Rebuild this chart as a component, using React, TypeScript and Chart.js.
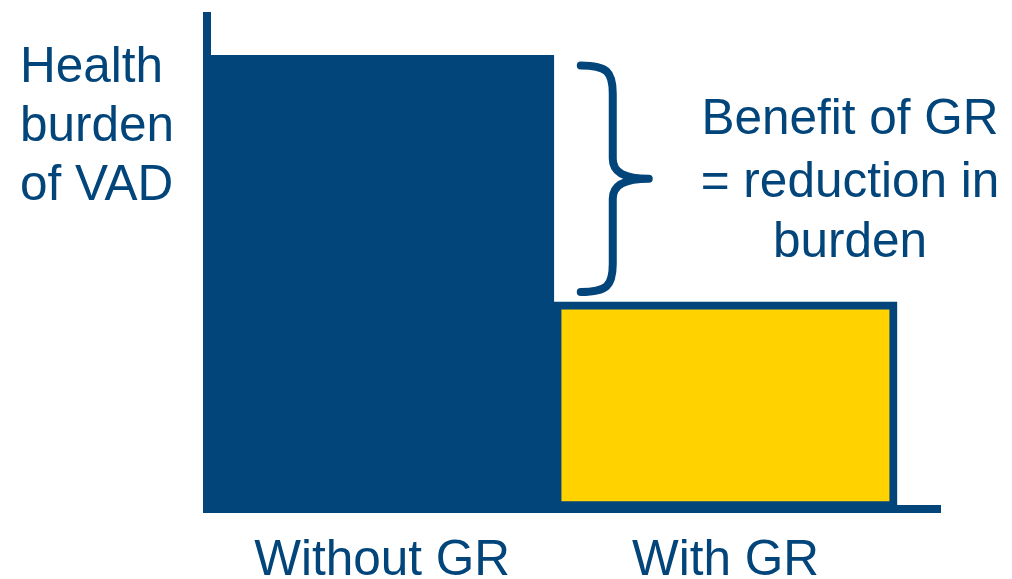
import { useEffect, useRef } from "react";
import { Chart, registerables } from "chart.js";

Chart.register(...registerables);

// Chart values
const categories = ["Without GR", "With GR"];
const burden = [92, 42];
const axisMax = 100;
const sideLabel = ["Health", "burden", "of VAD"];
const benefitLabel = ["Benefit of GR", "= reduction in", "burden"];

const NAVY = "#02457A";
const GOLD = "#FFD200";
const FONT = '"Liberation Sans", Arial, Helvetica, sans-serif';
const TEXT_SIZE = 49.5;

// Draws the side caption, the curly brace between the two bar tops and its note
const annotations = {
  id: "burdenAnnotations",
  afterDraw(chart: any) {
    const { ctx, scales } = chart;
    const xs = scales.x;
    const ys = scales.y;
    ctx.save();
    ctx.fillStyle = NAVY;
    ctx.font = `${TEXT_SIZE}px ${FONT}`;
    ctx.textBaseline = "alphabetic";

    // caption at the left of the value axis
    ctx.textAlign = "left";
    sideLabel.forEach((line, i) => ctx.fillText(line, 20, 82 + i * 59));

    // brace spanning the drop from the first bar to the second
    const top = ys.getPixelForValue(burden[0]) + 10;
    const bot = ys.getPixelForValue(burden[1]) - 10;
    const mid = (top + bot) / 2;
    const x0 = xs.getPixelForValue(0.5) + 27;
    const xs1 = x0 + 32;
    const tip = x0 + 68;
    ctx.strokeStyle = NAVY;
    ctx.lineWidth = 8;
    ctx.lineCap = "round";
    ctx.lineJoin = "round";
    ctx.beginPath();
    ctx.moveTo(x0, top);
    ctx.bezierCurveTo(x0 + 26, top, xs1, top + 6, xs1, top + 28);
    ctx.lineTo(xs1, mid - 20);
    ctx.bezierCurveTo(xs1, mid - 6, xs1 + 12, mid, tip, mid);
    ctx.bezierCurveTo(xs1 + 12, mid, xs1, mid + 6, xs1, mid + 20);
    ctx.lineTo(xs1, bot - 28);
    ctx.bezierCurveTo(xs1, bot - 6, x0 + 26, bot, x0, bot);
    ctx.stroke();

    // note explaining the brace
    ctx.textAlign = "center";
    const offsets = [-45, 18, 78];
    benefitLabel.forEach((line, i) => ctx.fillText(line, 850, mid + offsets[i]));
    ctx.restore();
  },
};

export default function App() {
  const canvasRef = useRef<HTMLCanvasElement | null>(null);

  useEffect(() => {
    const canvas = canvasRef.current;
    if (!canvas) return;
    const chart = new Chart(canvas, {
      type: "bar",
      data: {
        datasets: [
          {
            data: categories.map((_, i) => ({ x: i, y: burden[i] })),
            backgroundColor: [NAVY, GOLD],
            borderColor: NAVY,
            borderWidth: [0, 8],
            borderSkipped: false,
            barPercentage: 1,
            categoryPercentage: 1,
          },
        ],
      },
      options: {
        responsive: false,
        animation: false,
        events: [],
        layout: { padding: { left: 207, top: 16, right: 72, bottom: 0 } },
        plugins: {
          legend: { display: false },
          tooltip: { enabled: false },
          title: { display: false },
        },
        scales: {
          x: {
            type: "linear",
            offset: false,
            bounds: "data",
            min: -0.51,
            max: 1.625,
            grid: { display: false, drawTicks: false, offset: false },
            border: { display: true, color: NAVY, width: 8, z: 1 },
            afterBuildTicks: (scale: any) => {
              scale.ticks = categories.map((_, i) => ({ value: i }));
            },
            afterFit: (scale: any) => {
              scale.height = 70;
            },
            ticks: {
              autoSkip: false,
              maxRotation: 0,
              padding: 23,
              color: NAVY,
              font: { family: FONT, size: TEXT_SIZE },
              callback: (v: any) => categories[v as number] ?? "",
            },
          },
          y: {
            min: 0,
            max: axisMax,
            grid: { display: false, drawTicks: false },
            border: { display: true, color: NAVY, width: 8, z: 1 },
            ticks: { display: false },
            afterFit: (scale: any) => {
              scale.width = 0;
            },
          },
        },
      },
      plugins: [annotations],
    });
    return () => chart.destroy();
  }, []);

  return (
    <div style={{ position: "absolute", left: 0, top: 0, width: 1012, height: 579, background: "#fff" }}>
      <canvas ref={canvasRef} width={1012} height={579} style={{ display: "block" }} />
    </div>
  );
}
